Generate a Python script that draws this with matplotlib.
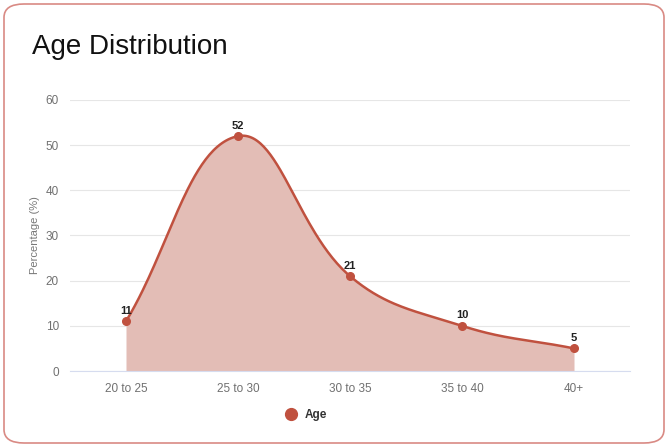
import numpy as np
import matplotlib
matplotlib.use("Agg")
import matplotlib.pyplot as plt
from matplotlib.patches import FancyBboxPatch
from matplotlib.lines import Line2D

categories = ["20 to 25", "25 to 30", "30 to 35", "35 to 40", "40+"]
values = [11, 52, 21, 10, 5]
yticks = [0, 10, 20, 30, 40, 50, 60]
title = "Age Distribution"
ylabel = "Percentage (%)"
series_name = "Age"

LINE = "#c0513f"
FILL = "#e3bdb6"

plt.rcParams["font.family"] = ["Liberation Sans", "DejaVu Sans"]


def spline_curve(ax, x, y, tension=0.4, n=60):
    # Chart.js-style bezier smoothing computed in display (pixel) space
    pts = ax.transData.transform(np.column_stack([x, y]).astype(float))
    k = len(pts)
    prev_cp, next_cp = [], []
    for i in range(k):
        p0 = pts[max(i - 1, 0)]
        p1 = pts[i]
        p2 = pts[min(i + 1, k - 1)]
        d01 = np.hypot(*(p1 - p0))
        d12 = np.hypot(*(p2 - p1))
        tot = d01 + d12
        s01 = d01 / tot if tot else 0
        s12 = d12 / tot if tot else 0
        prev_cp.append(p1 - tension * s01 * (p2 - p0))
        next_cp.append(p1 + tension * s12 * (p2 - p0))
    out = []
    for i in range(k - 1):
        t = np.linspace(0, 1, n)[:, None]
        a, b, c, d = pts[i], next_cp[i], prev_cp[i + 1], pts[i + 1]
        seg = ((1 - t) ** 3) * a + 3 * ((1 - t) ** 2) * t * b + 3 * (1 - t) * t ** 2 * c + t ** 3 * d
        out.append(seg if i == 0 else seg[1:])
    out = np.vstack(out)
    data = ax.transData.inverted().transform(out)
    return data[:, 0], data[:, 1]


fig = plt.figure(figsize=(6.68, 4.47), dpi=100)
fig.patch.set_facecolor("white")

card = FancyBboxPatch((4 / 668, 4 / 447), 660 / 668, 439 / 447,
                      boxstyle="round,pad=0,rounding_size=0.03",
                      transform=fig.transFigure, facecolor="none",
                      edgecolor="#d98a84", linewidth=1.2, zorder=10)
fig.add_artist(card)

fig.text(32 / 668, 1 - 47 / 447, title, fontsize=20, color="#111111",
         va="center", ha="left")

ax = fig.add_axes([70 / 668, 1 - 371 / 447, 560 / 668, 271 / 447])
ax.set_facecolor("none")
x = np.arange(len(categories))
ax.set_xlim(-0.5, len(categories) - 0.5)
ax.set_ylim(0, 60)

xs, ys = spline_curve(ax, x, values)
ax.fill_between(xs, 0, ys, color=FILL, linewidth=0, zorder=2)
ax.plot(xs, ys, color=LINE, linewidth=1.8, zorder=3)
ax.plot(x, values, "o", color=LINE, markersize=5.5, zorder=4)
for xi, v in zip(x, values):
    ax.annotate(str(v), (xi, v), xytext=(0, 4), textcoords="offset points",
                ha="center", va="bottom", fontsize=8, fontweight="bold",
                color="#222222", zorder=5)

ax.set_yticks(yticks)
ax.set_xticks(x)
ax.set_xticklabels(categories)
ax.grid(axis="y", color="#e6e6e6", linewidth=0.8, zorder=0)
ax.set_axisbelow(True)
for s in ["top", "right", "left"]:
    ax.spines[s].set_visible(False)
ax.spines["bottom"].set_color("#d6dcef")
ax.spines["bottom"].set_linewidth(0.8)
ax.tick_params(axis="both", length=0, colors="#707070", labelsize=8.5)
ax.tick_params(axis="x", pad=9)
ax.tick_params(axis="y", pad=8)
ax.set_ylabel(ylabel, fontsize=8, color="#777777", labelpad=4)

handle = Line2D([], [], marker="o", linestyle="none", color=LINE, markersize=8.5)
leg = fig.legend([handle], [series_name], loc="center",
                 bbox_to_anchor=(303 / 668, 1 - 415 / 447), frameon=False,
                 handletextpad=0.1, prop={"weight": "bold", "size": 8.5})
for t in leg.get_texts():
    t.set_color("#333333")

fig.savefig("out.png", dpi=100, facecolor="white")
